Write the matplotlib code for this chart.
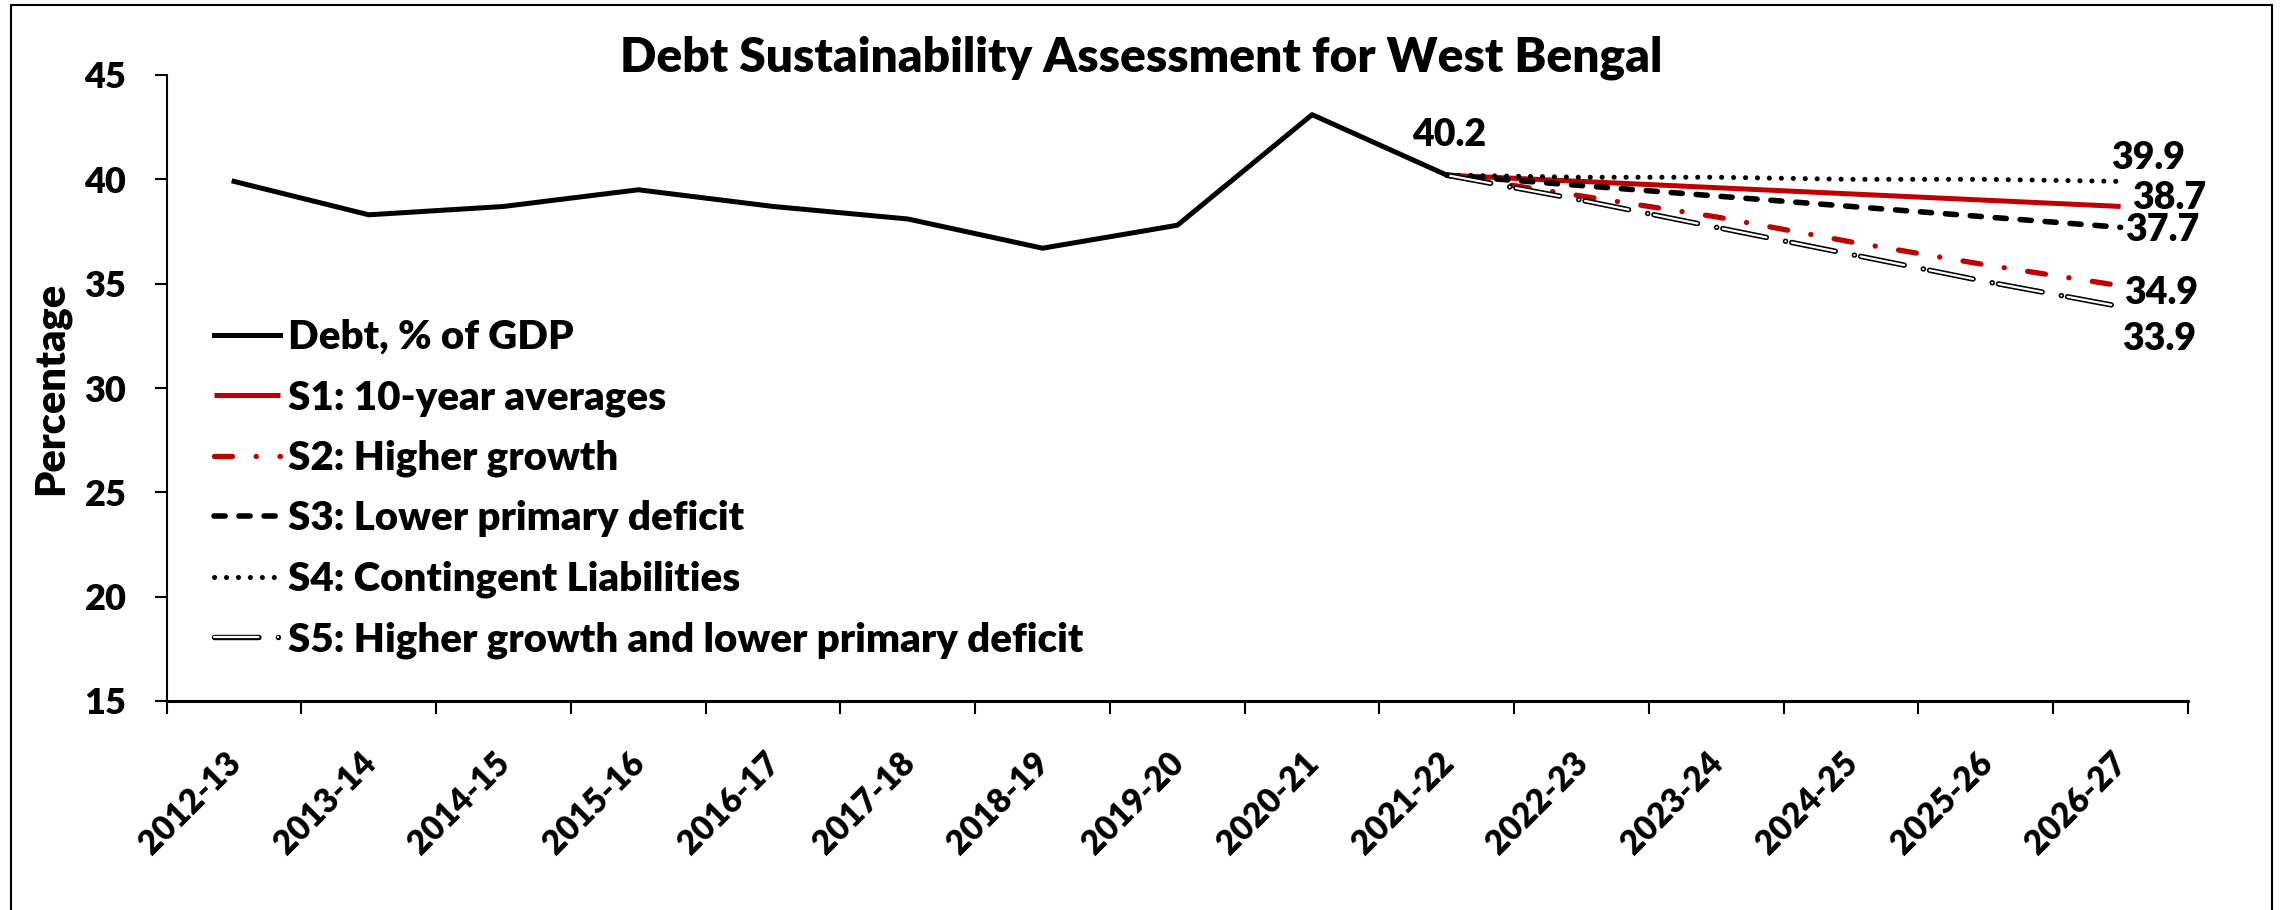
import numpy as np
import matplotlib
matplotlib.use("Agg")
import matplotlib.pyplot as plt
import matplotlib.patches as mpatches
import matplotlib.transforms as mtransforms


# Chart values
years = ["2012-13", "2013-14", "2014-15", "2015-16", "2016-17", "2017-18", "2018-19",
         "2019-20", "2020-21", "2021-22", "2022-23", "2023-24", "2024-25", "2025-26", "2026-27"]
debt = [39.9, 38.3, 38.7, 39.5, 38.7, 38.1, 36.7, 37.8, 43.1, 40.2]
s1 = [40.2, 39.9, 39.6, 39.3, 39.0, 38.7]
s2 = [40.2, 39.2, 38.2, 37.0, 35.9, 34.9]
s3 = [40.2, 39.7, 39.2, 38.7, 38.2, 37.7]
s4 = [40.2, 40.1, 40.1, 40.0, 40.0, 39.9]
s5 = [40.2, 39.0, 37.7, 36.4, 35.1, 33.9]
labels = ["Debt, % of GDP", "S1: 10-year averages", "S2: Higher growth",
          "S3: Lower primary deficit", "S4: Contingent Liabilities",
          "S5: Higher growth and lower primary deficit"]

plt.rcParams['font.family'] = ['Lato', 'DejaVu Sans']
plt.rcParams['font.weight'] = 'heavy'
plt.rcParams['lines.scale_dashes'] = False

red = '#C00000'
W, H = 2282, 910

# Set Figure
fig = plt.figure(figsize=(W / 100, H / 100), dpi=100)
ax = fig.add_axes([166.7 / W, 1 - 701 / H, (2188 - 166.7) / W, (701 - 75) / H])

x_hist = np.arange(len(debt))
x_proj = np.arange(len(debt) - 1, len(years))

# Plot lines
l_debt, = ax.plot(x_hist, debt, color='black', lw=3.6, zorder=5)
l1, = ax.plot(x_proj, s1, color=red, lw=3.6, solid_capstyle='butt', zorder=3)
l2, = ax.plot(x_proj, s2, color=red, lw=3.8, dash_capstyle='round', zorder=4)
l2.set_dashes((13, 17, 0.1, 17))
l3, = ax.plot(x_proj, s3, color='black', lw=4.0, dash_capstyle='round', zorder=3)
l3.set_dashes((8, 10))
l4, = ax.plot(x_proj, s4, color='black', lw=3.6, dash_capstyle='round', zorder=3)
l4.set_dashes((0.1, 8.5))
l5a, = ax.plot(x_proj, s5, color='black', lw=3.9, dash_capstyle='round', zorder=4)
l5a.set_dashes((32, 14, 0.1, 4.5))
l5b, = ax.plot(x_proj, s5, color='white', lw=1.6, dash_capstyle='round', zorder=4)
l5b.set_dashes((32, 14, 0.1, 4.5))

# Axes styling
ax.set_xlim(-0.5, len(years) - 0.5)
ax.set_ylim(15, 45)
ax.set_yticks(np.arange(15, 46, 5))
ax.spines['top'].set_visible(False)
ax.spines['right'].set_visible(False)
ax.spines['left'].set_linewidth(1.5)
ax.spines['bottom'].set_linewidth(2.2)
ax.tick_params(axis='y', direction='out', length=9, width=1.5, pad=20, labelsize=26)

ax.set_xticks(np.arange(len(years)))
ax.set_xticklabels(years, rotation=45, ha='right', va='top', fontsize=24)
ax.set_xticks(np.arange(-0.5, len(years)), minor=True)
ax.tick_params(axis='x', which='major', length=0, pad=33)
ax.tick_params(axis='x', which='minor', direction='out', length=9, width=1.5)
shift = mtransforms.ScaledTranslation(13 / 100, 0, fig.dpi_scale_trans)
for lab in ax.get_xticklabels():
    lab.set_transform(lab.get_transform() + shift)

# Data labels
ax.annotate("40.2", (x_hist[-1], debt[-1]), xytext=(2, 29), textcoords='offset points',
            ha='center', va='center', fontsize=27)
end_labels = [(s4[-1], 20, -17), (s1[-1], 35, -6), (s3[-1], 30, 2),
              (s2[-1], 29, 5), (s5[-1], 28, 23)]
for val, dx, dy in end_labels:
    ax.annotate("%.1f" % val, (x_proj[-1], val), xytext=(dx, -dy), textcoords='offset points',
                ha='center', va='center', fontsize=27)

# Legend
leg = ax.legend([l_debt, l1, l2, l3, l4, (l5a, l5b)], labels,
                loc='upper left', bbox_to_anchor=(214 / W, 1 - 319 / H),
                bbox_transform=fig.transFigure, frameon=False, fontsize=29,
                handlelength=1.65, handletextpad=0.18, labelspacing=0.575, borderpad=0,
                borderaxespad=0)

# Title and axis label
fig.text(0.5, 1 - 72 / H, "Debt Sustainability Assessment for West Bengal",
         ha='center', va='baseline', fontsize=34.5, fontweight='heavy')
fig.text(51 / W, 1 - 388 / H, "Percentage", rotation=90, ha='center', va='center',
         fontsize=30, fontweight='heavy')

# Outer border
border = mpatches.Rectangle((11 / W, -0.05), (2272 - 11) / W, 1.05 - 5 / H,
                            transform=fig.transFigure, fill=False, lw=1.5, ec='black')
fig.patches.append(border)

plt.savefig("out.png", dpi=100)
